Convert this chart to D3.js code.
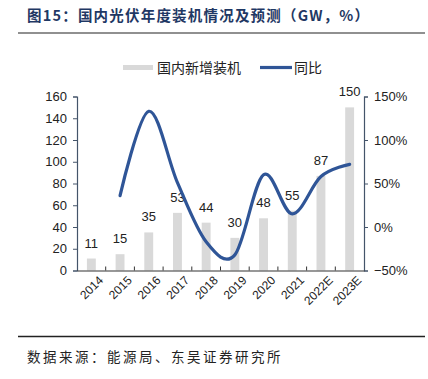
<!DOCTYPE html>
<html>
<head>
<meta charset="utf-8">
<script src="https://cdn.jsdelivr.net/npm/d3@7"></script>
<style>
  body { margin: 0; background: #fff; }
  svg { display: block; }
</style>
</head>
<body>
<div id="chart"></div>
<script>
const years = ['2014', '2015', '2016', '2017', '2018', '2019', '2020', '2021', '2022E', '2023E'];
const installed = [11, 15, 35, 53, 44, 30, 48, 55, 87, 150];
const growth = [null, 36, 133, 51, -17, -32, 60, 15, 58, 72];
const leftTicks = [0, 20, 40, 60, 80, 100, 120, 140, 160];
const rightTicks = [-50, 0, 50, 100, 150];

const W = 428, H = 379;
const plot = { left: 77, right: 364, top: 96.5, bottom: 270.5 };
const axisColor = '#44546a';
const lineColor = '#2f5597';
const barColor = '#d9d9d9';
const textFont = '"Liberation Sans", Arial, sans-serif';
const cjkFont = '"Noto Sans CJK SC", sans-serif';

const svg = d3.select('#chart')
  .append('svg')
  .attr('width', W)
  .attr('height', H);

// title and rules
svg.append('text')
  .attr('x', 27)
  .attr('y', 21)
  .attr('font-family', cjkFont)
  .attr('font-weight', 'bold')
  .attr('font-size', 14.5)
  .attr('letter-spacing', 1.2)
  .attr('fill', '#1f3864')
  .text('图15：国内光伏年度装机情况及预测（GW，%）');

svg.append('line')
  .attr('x1', 18).attr('x2', 425)
  .attr('y1', 33).attr('y2', 33)
  .attr('stroke', '#222').attr('stroke-width', 1.2);

svg.append('line')
  .attr('x1', 18).attr('x2', 425)
  .attr('y1', 336.5).attr('y2', 336.5)
  .attr('stroke', '#222').attr('stroke-width', 1.5);

svg.append('text')
  .attr('x', 27)
  .attr('y', 362)
  .attr('font-family', cjkFont)
  .attr('font-size', 13.5)
  .attr('letter-spacing', 2.5)
  .attr('fill', '#222')
  .text('数据来源：能源局、东吴证券研究所');

// scales
const x = d3.scaleBand()
  .domain(years)
  .range([plot.left, plot.right]);

const yL = d3.scaleLinear()
  .domain([0, 160])
  .range([plot.bottom, plot.top]);

const yR = d3.scaleLinear()
  .domain([-50, 150])
  .range([plot.bottom, plot.top]);

// bars
const barW = x.bandwidth() * 0.31;
svg.selectAll('rect.bar')
  .data(installed)
  .enter().append('rect')
  .attr('class', 'bar')
  .attr('x', (d, i) => x(years[i]) + x.bandwidth() / 2 - barW / 2)
  .attr('y', d => yL(d))
  .attr('width', barW)
  .attr('height', d => yL(0) - yL(d))
  .attr('fill', barColor);

svg.selectAll('text.val')
  .data(installed)
  .enter().append('text')
  .attr('class', 'val')
  .attr('x', (d, i) => x(years[i]) + x.bandwidth() / 2)
  .attr('y', d => yL(d) - 11)
  .attr('text-anchor', 'middle')
  .attr('font-family', textFont)
  .attr('font-size', 13)
  .attr('fill', '#222')
  .text(d => d);

// axes
const gL = svg.append('g')
  .attr('transform', `translate(${plot.left},0)`)
  .call(d3.axisLeft(yL).tickValues(leftTicks).tickSize(4).tickPadding(6));

const gR = svg.append('g')
  .attr('transform', `translate(${plot.right},0)`)
  .call(d3.axisRight(yR).tickValues(rightTicks).tickSize(4).tickPadding(6)
    .tickFormat(d => (d < 0 ? '−' + Math.abs(d) : d) + '%'));

[gL, gR].forEach(g => {
  g.select('.domain').attr('stroke', axisColor).attr('stroke-width', 1.2);
  g.selectAll('.tick line').attr('stroke', axisColor);
  g.selectAll('.tick text')
    .attr('font-family', textFont)
    .attr('font-size', 13)
    .attr('fill', '#222');
});

const gX = svg.append('g')
  .attr('transform', `translate(0,${plot.bottom})`)
  .call(d3.axisBottom(x).tickSize(0).tickPadding(8));
gX.select('.domain').attr('stroke', '#333').attr('stroke-width', 1.2);
gX.selectAll('.tick text')
  .attr('font-family', textFont)
  .attr('font-size', 12)
  .attr('fill', '#222')
  .attr('text-anchor', 'end')
  .attr('transform', 'translate(4,2) rotate(-45)')
  .attr('dy', '0.35em');

// boundary ticks between categories, pointing into the plot
svg.selectAll('line.xtick')
  .data(years.slice(1))
  .enter().append('line')
  .attr('class', 'xtick')
  .attr('x1', d => x(d)).attr('x2', d => x(d))
  .attr('y1', plot.bottom).attr('y2', plot.bottom - 4)
  .attr('stroke', '#333');

// growth line
const line = d3.line()
  .x(d => x(d[0]) + x.bandwidth() / 2)
  .y(d => yR(d[1]))
  .curve(d3.curveCardinal.tension(0));

svg.append('path')
  .datum(years.map((yr, i) => [yr, growth[i]]).filter(d => d[1] != null))
  .attr('d', line)
  .attr('fill', 'none')
  .attr('stroke', lineColor)
  .attr('stroke-width', 3.2)
  .attr('stroke-linecap', 'round');

// legend
const lg = svg.append('g');
lg.append('rect')
  .attr('x', 123).attr('y', 65)
  .attr('width', 30).attr('height', 5)
  .attr('fill', barColor);
lg.append('text')
  .attr('x', 157).attr('y', 72.5)
  .attr('font-family', cjkFont)
  .attr('font-size', 14)
  .attr('fill', '#222')
  .text('国内新增装机');
lg.append('line')
  .attr('x1', 260).attr('x2', 292)
  .attr('y1', 67.5).attr('y2', 67.5)
  .attr('stroke', lineColor)
  .attr('stroke-width', 3.2);
lg.append('text')
  .attr('x', 294).attr('y', 72.5)
  .attr('font-family', cjkFont)
  .attr('font-size', 14)
  .attr('fill', '#222')
  .text('同比');
</script>
</body>
</html>
